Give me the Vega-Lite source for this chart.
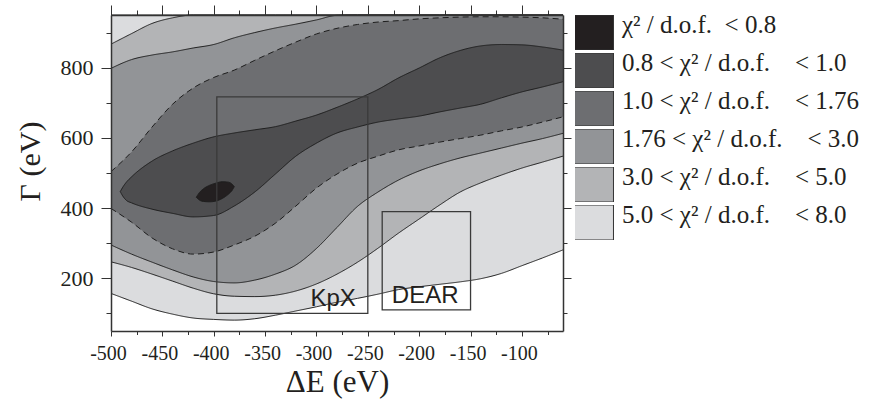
{
  "$schema": "https://vega.github.io/schema/vega-lite/v6.json",
  "width": 452,
  "height": 316,
  "autosize": "none",
  "padding": {"left": 111, "top": 15, "right": 312, "bottom": 74},
  "background": "white",
  "config": {
    "view": {"stroke": null},
    "font": "Liberation Serif"
  },
  "datasets": {
    "levels": [
      {"k": "L1", "level": "χ² / d.o.f.\u00a0 < 0.8"},
      {"k": "L2", "level": "0.8 < χ² / d.o.f.\u00a0\u00a0\u00a0 < 1.0"},
      {"k": "L3", "level": "1.0 < χ² / d.o.f.\u00a0\u00a0\u00a0 < 1.76"},
      {"k": "L4", "level": "1.76 < χ² / d.o.f.\u00a0\u00a0\u00a0 < 3.0"},
      {"k": "L5", "level": "3.0 < χ² / d.o.f.\u00a0\u00a0\u00a0 < 5.0"},
      {"k": "L6", "level": "5.0 < χ² / d.o.f.\u00a0\u00a0\u00a0 < 8.0"}
    ],
    "bands": [
      {"k": "L6", "x": -500, "lo": 157, "hi": 950},
      {"k": "L6", "x": -480, "lo": 135, "hi": 950},
      {"k": "L6", "x": -460, "lo": 113, "hi": 950},
      {"k": "L6", "x": -440, "lo": 98, "hi": 950},
      {"k": "L6", "x": -420, "lo": 87, "hi": 950},
      {"k": "L6", "x": -400, "lo": 83, "hi": 950},
      {"k": "L6", "x": -380, "lo": 81, "hi": 950},
      {"k": "L6", "x": -360, "lo": 85, "hi": 950},
      {"k": "L6", "x": -340, "lo": 95, "hi": 950},
      {"k": "L6", "x": -320, "lo": 107, "hi": 950},
      {"k": "L6", "x": -300, "lo": 119, "hi": 950},
      {"k": "L6", "x": -280, "lo": 132, "hi": 950},
      {"k": "L6", "x": -260, "lo": 143, "hi": 950},
      {"k": "L6", "x": -240, "lo": 155, "hi": 950},
      {"k": "L6", "x": -220, "lo": 168, "hi": 950},
      {"k": "L6", "x": -200, "lo": 176, "hi": 950},
      {"k": "L6", "x": -180, "lo": 183, "hi": 950},
      {"k": "L6", "x": -160, "lo": 190, "hi": 950},
      {"k": "L6", "x": -140, "lo": 199, "hi": 950},
      {"k": "L6", "x": -120, "lo": 214, "hi": 950},
      {"k": "L6", "x": -100, "lo": 236, "hi": 950},
      {"k": "L6", "x": -80, "lo": 258, "hi": 950},
      {"k": "L6", "x": -60, "lo": 281, "hi": 950},

      {"k": "L5", "x": -500, "lo": 247, "hi": 867},
      {"k": "L5", "x": -480, "lo": 231, "hi": 897},
      {"k": "L5", "x": -460, "lo": 212, "hi": 926},
      {"k": "L5", "x": -440, "lo": 192, "hi": 942},
      {"k": "L5", "x": -420, "lo": 172, "hi": 950},
      {"k": "L5", "x": -400, "lo": 156, "hi": 950},
      {"k": "L5", "x": -380, "lo": 149, "hi": 950},
      {"k": "L5", "x": -360, "lo": 148, "hi": 950},
      {"k": "L5", "x": -340, "lo": 152, "hi": 950},
      {"k": "L5", "x": -320, "lo": 164, "hi": 950},
      {"k": "L5", "x": -300, "lo": 184, "hi": 950},
      {"k": "L5", "x": -280, "lo": 212, "hi": 950},
      {"k": "L5", "x": -260, "lo": 246, "hi": 950},
      {"k": "L5", "x": -240, "lo": 286, "hi": 950},
      {"k": "L5", "x": -220, "lo": 329, "hi": 950},
      {"k": "L5", "x": -200, "lo": 369, "hi": 950},
      {"k": "L5", "x": -180, "lo": 409, "hi": 950},
      {"k": "L5", "x": -160, "lo": 446, "hi": 950},
      {"k": "L5", "x": -140, "lo": 472, "hi": 950},
      {"k": "L5", "x": -120, "lo": 494, "hi": 950},
      {"k": "L5", "x": -100, "lo": 514, "hi": 950},
      {"k": "L5", "x": -80, "lo": 531, "hi": 950},
      {"k": "L5", "x": -60, "lo": 548, "hi": 950},

      {"k": "L4", "x": -500, "lo": 295, "hi": 798},
      {"k": "L4", "x": -480, "lo": 269, "hi": 823},
      {"k": "L4", "x": -460, "lo": 246, "hi": 836},
      {"k": "L4", "x": -440, "lo": 224, "hi": 845},
      {"k": "L4", "x": -420, "lo": 204, "hi": 856},
      {"k": "L4", "x": -400, "lo": 191, "hi": 866},
      {"k": "L4", "x": -380, "lo": 187, "hi": 885},
      {"k": "L4", "x": -360, "lo": 195, "hi": 900},
      {"k": "L4", "x": -340, "lo": 212, "hi": 913},
      {"k": "L4", "x": -320, "lo": 238, "hi": 924},
      {"k": "L4", "x": -300, "lo": 285, "hi": 936},
      {"k": "L4", "x": -280, "lo": 345, "hi": 949},
      {"k": "L4", "x": -260, "lo": 405, "hi": 950},
      {"k": "L4", "x": -240, "lo": 446, "hi": 950},
      {"k": "L4", "x": -220, "lo": 480, "hi": 950},
      {"k": "L4", "x": -200, "lo": 506, "hi": 950},
      {"k": "L4", "x": -180, "lo": 526, "hi": 950},
      {"k": "L4", "x": -160, "lo": 543, "hi": 950},
      {"k": "L4", "x": -140, "lo": 557, "hi": 950},
      {"k": "L4", "x": -120, "lo": 571, "hi": 950},
      {"k": "L4", "x": -100, "lo": 585, "hi": 950},
      {"k": "L4", "x": -80, "lo": 598, "hi": 950},
      {"k": "L4", "x": -60, "lo": 613, "hi": 950},

      {"k": "L3", "x": -500, "lo": 399, "hi": 504},
      {"k": "L3", "x": -480, "lo": 360, "hi": 560},
      {"k": "L3", "x": -460, "lo": 315, "hi": 631},
      {"k": "L3", "x": -440, "lo": 284, "hi": 696},
      {"k": "L3", "x": -420, "lo": 269, "hi": 742},
      {"k": "L3", "x": -400, "lo": 275, "hi": 772},
      {"k": "L3", "x": -380, "lo": 295, "hi": 793},
      {"k": "L3", "x": -360, "lo": 320, "hi": 821},
      {"k": "L3", "x": -340, "lo": 357, "hi": 848},
      {"k": "L3", "x": -320, "lo": 406, "hi": 873},
      {"k": "L3", "x": -300, "lo": 457, "hi": 896},
      {"k": "L3", "x": -280, "lo": 497, "hi": 912},
      {"k": "L3", "x": -260, "lo": 528, "hi": 923},
      {"k": "L3", "x": -240, "lo": 548, "hi": 930},
      {"k": "L3", "x": -220, "lo": 566, "hi": 934},
      {"k": "L3", "x": -200, "lo": 577, "hi": 939},
      {"k": "L3", "x": -180, "lo": 588, "hi": 942},
      {"k": "L3", "x": -160, "lo": 598, "hi": 944},
      {"k": "L3", "x": -140, "lo": 608, "hi": 945},
      {"k": "L3", "x": -120, "lo": 620, "hi": 945},
      {"k": "L3", "x": -100, "lo": 631, "hi": 944},
      {"k": "L3", "x": -80, "lo": 645, "hi": 942},
      {"k": "L3", "x": -60, "lo": 660, "hi": 938},

      {"k": "L2", "x": -491, "lo": 447, "hi": 447},
      {"k": "L2", "x": -488, "lo": 432, "hi": 462},
      {"k": "L2", "x": -485, "lo": 422, "hi": 474},
      {"k": "L2", "x": -480, "lo": 415, "hi": 489},
      {"k": "L2", "x": -460, "lo": 397, "hi": 534},
      {"k": "L2", "x": -440, "lo": 385, "hi": 563},
      {"k": "L2", "x": -420, "lo": 375, "hi": 585},
      {"k": "L2", "x": -400, "lo": 379, "hi": 603},
      {"k": "L2", "x": -380, "lo": 406, "hi": 614},
      {"k": "L2", "x": -360, "lo": 446, "hi": 623},
      {"k": "L2", "x": -340, "lo": 497, "hi": 632},
      {"k": "L2", "x": -320, "lo": 548, "hi": 648},
      {"k": "L2", "x": -300, "lo": 585, "hi": 665},
      {"k": "L2", "x": -280, "lo": 614, "hi": 687},
      {"k": "L2", "x": -260, "lo": 631, "hi": 711},
      {"k": "L2", "x": -240, "lo": 645, "hi": 738},
      {"k": "L2", "x": -220, "lo": 654, "hi": 771},
      {"k": "L2", "x": -200, "lo": 662, "hi": 799},
      {"k": "L2", "x": -180, "lo": 674, "hi": 828},
      {"k": "L2", "x": -160, "lo": 685, "hi": 849},
      {"k": "L2", "x": -140, "lo": 696, "hi": 862},
      {"k": "L2", "x": -120, "lo": 714, "hi": 866},
      {"k": "L2", "x": -100, "lo": 731, "hi": 865},
      {"k": "L2", "x": -80, "lo": 745, "hi": 859},
      {"k": "L2", "x": -60, "lo": 760, "hi": 850},

      {"k": "L1", "x": -417, "lo": 431, "hi": 431},
      {"k": "L1", "x": -414, "lo": 423, "hi": 444},
      {"k": "L1", "x": -410, "lo": 419, "hi": 455},
      {"k": "L1", "x": -404, "lo": 418, "hi": 465},
      {"k": "L1", "x": -398, "lo": 420, "hi": 471},
      {"k": "L1", "x": -392, "lo": 427, "hi": 475},
      {"k": "L1", "x": -386, "lo": 439, "hi": 474},
      {"k": "L1", "x": -382, "lo": 451, "hi": 468},
      {"k": "L1", "x": -380, "lo": 461, "hi": 461}
    ],
    "boxes": [
      {"name": "KpX", "x1": -397, "x2": -250, "y1": 100, "y2": 717},
      {"name": "DEAR", "x1": -236, "x2": -150, "y1": 110, "y2": 390}
    ]
  },
  "resolve": {"axis": {"x": "independent", "y": "independent"}},
  "layer": [
    {
      "data": {"name": "bands"},
      "transform": [
        {"filter": "datum.k === 'L6'"},
        {"lookup": "k", "from": {"data": {"name": "levels"}, "key": "k", "fields": ["level"]}}
      ],
      "mark": {"type": "area", "interpolate": "monotone", "opacity": 1},
      "encoding": {
        "x": {"field": "x", "type": "quantitative", "scale": {"domain": [-500, -60], "nice": false, "zero": false},
          "axis": {"orient": "bottom", "values": [-500, -450, -400, -350, -300, -250, -200, -150, -100], "title": "ΔE (eV)", "grid": false,
            "labelExpr": "'' + datum.value", "labelOffset": -3,
            "tickSize": 5, "tickColor": "#333333", "domain": true, "domainColor": "#333333", "domainWidth": 1.5,
            "labelFont": "Liberation Serif", "labelFontSize": 20, "labelColor": "#231f20", "labelPadding": 7, "labelFlush": false, "labelOverlap": false,
            "titleFont": "Liberation Serif", "titleFontSize": 31, "titleFontWeight": "normal", "titleColor": "#231f20", "titlePadding": 4, "zindex": 1}},
        "y": {"field": "hi", "type": "quantitative", "scale": {"domain": [50, 950], "nice": false, "zero": false},
          "axis": {"orient": "left", "values": [200, 400, 600, 800], "title": "Γ (eV)", "grid": false,
            "tickSize": 10, "tickColor": "#333333", "domain": true, "domainColor": "#333333", "domainWidth": 1.5,
            "labelFont": "Liberation Serif", "labelFontSize": 22, "labelColor": "#231f20", "labelPadding": 8, "labelFlush": false, "labelOverlap": false,
            "titleFont": "Liberation Serif", "titleFontSize": 30, "titleFontWeight": "normal", "titleColor": "#231f20",
            "titleX": -81, "titleY": 146, "titleBaseline": "middle", "titleAlign": "center", "titleAngle": -90, "zindex": 1}},
        "y2": {"field": "lo"},
        "color": {"field": "level", "type": "nominal",
          "scale": {"domain": ["χ² / d.o.f.\u00a0 < 0.8", "0.8 < χ² / d.o.f.\u00a0\u00a0\u00a0 < 1.0", "1.0 < χ² / d.o.f.\u00a0\u00a0\u00a0 < 1.76", "1.76 < χ² / d.o.f.\u00a0\u00a0\u00a0 < 3.0", "3.0 < χ² / d.o.f.\u00a0\u00a0\u00a0 < 5.0", "5.0 < χ² / d.o.f.\u00a0\u00a0\u00a0 < 8.0"],
            "range": ["#231f20", "#4d4d4f", "#6d6e71", "#929497", "#b3b4b6", "#dbdcde"]},
          "legend": {"title": null, "orient": "right", "offset": 3, "padding": 0, "rowPadding": 0, "clipHeight": 35,
            "symbolType": "M-1.17,-1H1.17V1H-1.17Z", "symbolSize": 1225, "symbolStrokeColor": "#333333", "symbolStrokeWidth": 1, "symbolOpacity": 1,
            "labelFont": "Liberation Serif", "labelFontSize": 25, "labelColor": "#231f20", "labelOffset": 11, "labelLimit": 400, "labelBaseline": "alphabetic"}}
      }
    },
    {
      "data": {"name": "bands"},
      "transform": [
        {"filter": "datum.k === 'L5'"},
        {"lookup": "k", "from": {"data": {"name": "levels"}, "key": "k", "fields": ["level"]}}
      ],
      "mark": {"type": "area", "interpolate": "monotone", "opacity": 1},
      "encoding": {
        "x": {"field": "x", "type": "quantitative",
          "axis": {"orient": "bottom", "values": [-475, -425, -375, -325, -275, -225, -175, -125, -75], "title": null, "labels": false, "domain": false, "grid": false, "tickSize": 3.5, "tickColor": "#333333"}},
        "y": {"field": "hi", "type": "quantitative",
          "axis": {"orient": "left", "values": [100, 300, 500, 700, 900], "title": null, "labels": false, "domain": false, "grid": false, "tickSize": 5, "tickColor": "#333333"}},
        "y2": {"field": "lo"},
        "color": {"field": "level", "type": "nominal"}
      }
    },
    {
      "data": {"name": "bands"},
      "transform": [
        {"filter": "datum.k === 'L4'"},
        {"lookup": "k", "from": {"data": {"name": "levels"}, "key": "k", "fields": ["level"]}}
      ],
      "mark": {"type": "area", "interpolate": "monotone", "opacity": 1},
      "encoding": {
        "x": {"field": "x", "type": "quantitative",
          "axis": {"orient": "top", "values": [-500, -450, -400, -350, -300, -250, -200, -150, -100], "title": null, "labels": false, "grid": false,
            "tickSize": 10, "tickColor": "#333333", "domain": true, "domainColor": "#333333", "domainWidth": 1.5, "zindex": 1}},
        "y": {"field": "hi", "type": "quantitative",
          "axis": {"orient": "right", "values": [200, 400, 600, 800], "title": null, "labels": false, "grid": false,
            "tickSize": 8, "tickColor": "#333333", "domain": true, "domainColor": "#333333", "domainWidth": 1.5, "zindex": 1}},
        "y2": {"field": "lo"},
        "color": {"field": "level", "type": "nominal"}
      }
    },
    {
      "data": {"name": "bands"},
      "transform": [
        {"filter": "datum.k === 'L3'"},
        {"lookup": "k", "from": {"data": {"name": "levels"}, "key": "k", "fields": ["level"]}}
      ],
      "mark": {"type": "area", "interpolate": "monotone", "opacity": 1},
      "encoding": {
        "x": {"field": "x", "type": "quantitative",
          "axis": {"orient": "top", "values": [-475, -425, -375, -325, -275, -225, -175, -125, -75], "title": null, "labels": false, "domain": false, "grid": false, "tickSize": 5, "tickColor": "#333333"}},
        "y": {"field": "hi", "type": "quantitative",
          "axis": {"orient": "right", "values": [100, 300, 500, 700, 900], "title": null, "labels": false, "domain": false, "grid": false, "tickSize": 4, "tickColor": "#333333"}},
        "y2": {"field": "lo"},
        "color": {"field": "level", "type": "nominal"}
      }
    },
    {
      "data": {"name": "bands"},
      "transform": [
        {"filter": "datum.k === 'L2'"},
        {"lookup": "k", "from": {"data": {"name": "levels"}, "key": "k", "fields": ["level"]}}
      ],
      "mark": {"type": "area", "interpolate": "monotone", "opacity": 1},
      "encoding": {
        "x": {"field": "x", "type": "quantitative", "axis": null},
        "y": {"field": "hi", "type": "quantitative", "axis": null},
        "y2": {"field": "lo"},
        "color": {"field": "level", "type": "nominal"}
      }
    },
    {
      "data": {"name": "bands"},
      "transform": [
        {"filter": "datum.k === 'L1'"},
        {"lookup": "k", "from": {"data": {"name": "levels"}, "key": "k", "fields": ["level"]}}
      ],
      "mark": {"type": "area", "interpolate": "monotone", "opacity": 1},
      "encoding": {
        "x": {"field": "x", "type": "quantitative", "axis": null},
        "y": {"field": "hi", "type": "quantitative", "axis": null},
        "y2": {"field": "lo"},
        "color": {"field": "level", "type": "nominal"}
      }
    },
    {
      "data": {"name": "bands"},
      "mark": {"type": "line", "interpolate": "monotone", "color": "#1e1e1e", "strokeWidth": 1},
      "encoding": {
        "x": {"field": "x", "type": "quantitative", "axis": null},
        "y": {"field": "lo", "type": "quantitative", "axis": null},
        "detail": {"field": "k"},
        "strokeDash": {"condition": {"test": "datum.k === 'L3'", "value": [6, 4]}, "value": [1, 0]}
      }
    },
    {
      "data": {"name": "bands"},
      "mark": {"type": "line", "interpolate": "monotone", "color": "#1e1e1e", "strokeWidth": 1},
      "encoding": {
        "x": {"field": "x", "type": "quantitative", "axis": null},
        "y": {"field": "hi", "type": "quantitative", "axis": null},
        "detail": {"field": "k"},
        "strokeDash": {"condition": {"test": "datum.k === 'L3'", "value": [6, 4]}, "value": [1, 0]}
      }
    },
    {
      "data": {"name": "boxes"},
      "mark": {"type": "rect", "fill": null, "fillOpacity": 0, "stroke": "#3a3a3a", "strokeWidth": 1.3},
      "encoding": {
        "x": {"field": "x1", "type": "quantitative", "axis": null},
        "x2": {"field": "x2"},
        "y": {"field": "y1", "type": "quantitative", "axis": null},
        "y2": {"field": "y2"}
      }
    },
    {
      "data": {"name": "boxes"},
      "mark": {"type": "text", "align": "right", "baseline": "alphabetic", "dx": -12, "dy": -7, "font": "Liberation Sans", "fontSize": 24, "color": "#231f20"},
      "encoding": {
        "x": {"field": "x2", "type": "quantitative", "axis": null},
        "y": {"field": "y1", "type": "quantitative", "axis": null},
        "text": {"field": "name"}
      }
    }
  ]
}
